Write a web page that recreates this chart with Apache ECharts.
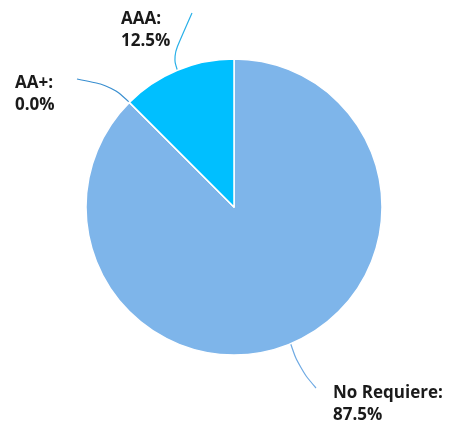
<!DOCTYPE html>
<html><head><meta charset="utf-8">
<script src="https://cdn.jsdelivr.net/npm/echarts@6/dist/echarts.min.js"></script>
<style>html,body{margin:0;padding:0;background:#fff}#c{width:450px;height:428px}</style>
</head><body><div id="c"></div>
<script>
const categories = ['No Requiere', 'AA+', 'AAA'];
const values = [87.5, 0.0, 12.5];
const colors = ['#7EB5EA', '#7EB5EA', '#00BFFF'];
const labelPos = [[333, 404], [15, 94], [121, 30]];
const lineColors = ['#6FAAE3', '#3A8FD0', '#29B0E8'];
const lineBends = [[[299, 368], [316, 388]], [[112, 86], [77, 79]], [[173, 56], [192, 13]]];

const chart = echarts.init(document.getElementById('c'));
chart.setOption({
  animation: false,
  series: [{
    type: 'pie',
    center: [234, 207],
    radius: [0, 148],
    startAngle: 90,
    clockwise: true,
    avoidLabelOverlap: false,
    minShowLabelAngle: 0,
    stillShowZeroSum: true,
    data: categories.map((c, i) => ({
      name: c, value: values[i],
      itemStyle: { color: colors[i] },
      labelLine: { lineStyle: { color: lineColors[i] } }
    })),
    itemStyle: { borderColor: '#ffffff', borderWidth: 1.5 },
    label: {
      show: true,
      formatter: p => p.name + ':\n' + p.value.toFixed(1) + '%',
      fontFamily: 'Open Sans',
      fontWeight: 'bold',
      fontSize: 17,
      lineHeight: 22,
      color: '#1a1a1a',
      align: 'left'
    },
    labelLine: { show: true, smooth: 0.4, length: 20, length2: 20, lineStyle: { width: 1.2 } },
    labelLayout: function (p) {
      const i = p.dataIndex;
      const lp = labelPos[i];
      const start = p.labelLinePoints ? p.labelLinePoints[0] : null;
      const res = { x: lp[0], y: lp[1], align: 'left', verticalAlign: 'middle', moveOverlap: null };
      if (start) res.labelLinePoints = [start, lineBends[i][0], lineBends[i][1]];
      return res;
    }
  }]
});
</script></body></html>
